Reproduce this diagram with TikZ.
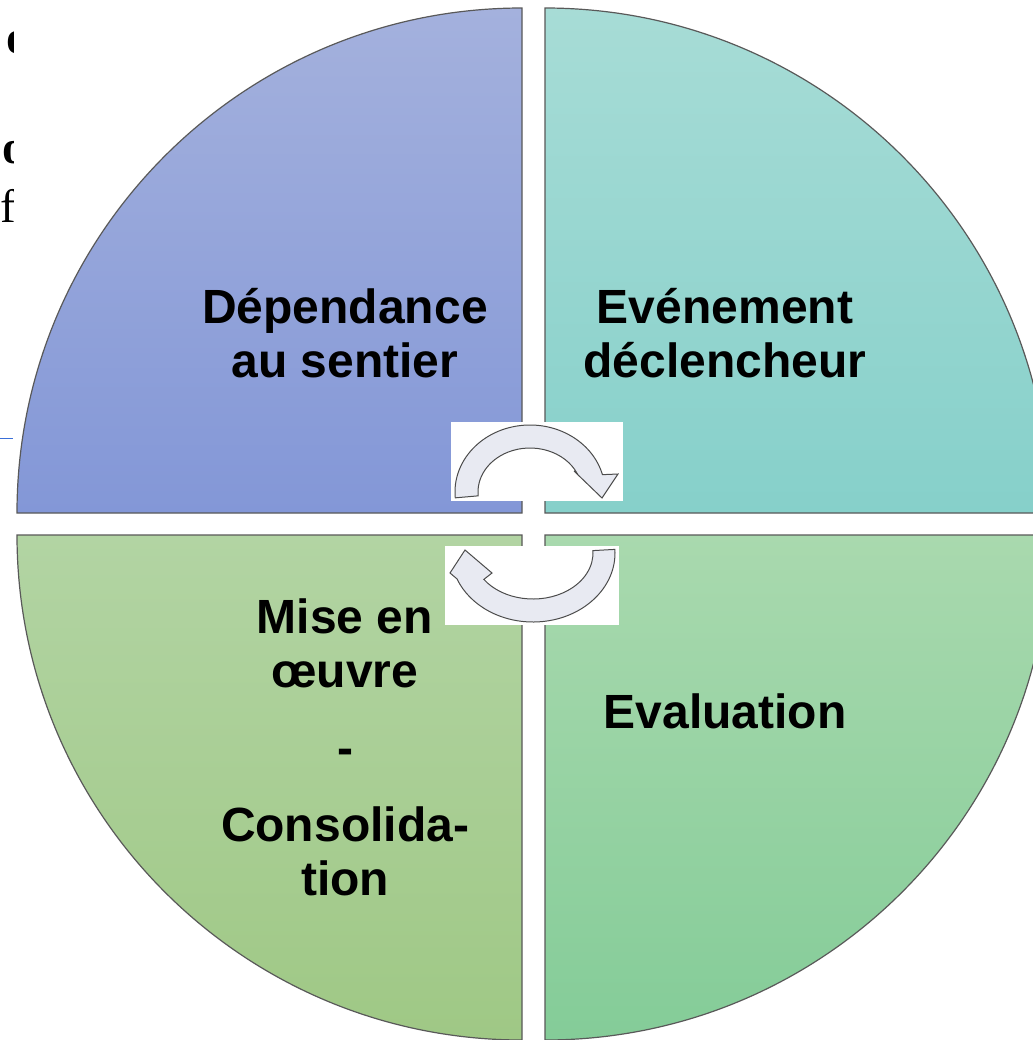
\documentclass[tikz,border=0pt]{standalone}
\usepackage{fontspec}
\setmainfont{Liberation Sans}
\newfontfamily\serifbits{Liberation Serif}
\usepackage{tikz}

\definecolor{tlTop}{HTML}{A4B1DD}
\definecolor{tlBot}{HTML}{8397D7}
\definecolor{trTop}{HTML}{A7DCD6}
\definecolor{trBot}{HTML}{86D0CA}
\definecolor{blTop}{HTML}{B2D4A3}
\definecolor{blBot}{HTML}{9FC885}
\definecolor{brTop}{HTML}{A9D9AE}
\definecolor{brBot}{HTML}{84CC98}
\definecolor{arrowFill}{HTML}{E8EAF2}
\definecolor{pageBlue}{HTML}{3A6FD8}

\begin{document}
\begin{tikzpicture}[x=0.5pt, y=-0.5pt,
	quart/.style={draw=black!65, line width=0.6pt},
	fleche/.style={fill=arrowFill, draw=black!70, line width=0.5pt},
	etiq/.style={font=\fontsize{24}{27}\selectfont\bfseries, align=center, inner sep=0pt, anchor=base},
	bout/.style={font=\serifbits\fontsize{23.5}{24}\selectfont, inner sep=0pt, anchor=base west}]

				\useasboundingbox (0,0) rectangle (1033,1040);
				\fill[white] (0,0) rectangle (1033,1040);

				\node[bout, font=\serifbits\fontsize{23.5}{24}\selectfont\bfseries] (bitA) at (6,53) {o};
				\node[bout, font=\serifbits\fontsize{23.5}{24}\selectfont\bfseries] (bitB) at (2,163) {o};
				\node[bout] (bitC) at (0,222) {f};
				\draw[pageBlue, line width=0.5pt] (0,438) -- (13,438);
				\fill[white] (14,0) rectangle (1033,1040);

				\draw[quart, top color=tlTop, bottom color=tlBot] (522,513) -- (17,513) arc[start angle=180, end angle=270, radius=505] -- cycle;
				\draw[quart, top color=trTop, bottom color=trBot] (545,513) -- (545,8) arc[start angle=270, end angle=360, radius=505] -- cycle;
				\draw[quart, top color=blTop, bottom color=blBot] (522,535) -- (17,535) arc[start angle=180, end angle=90, radius=505] -- cycle;
				\draw[quart, top color=brTop, bottom color=brBot] (545,535) -- (545,1040) arc[start angle=90, end angle=0, radius=505] -- cycle;

				\fill[white] (451,422) rectangle (623,501);
				\fill[white] (445,546) rectangle (619,625);

				\draw[fleche, shift={(530,492)}] (175:75 and 67) arc[start angle=175, end angle=345, x radius=75, y radius=67] -- (88,-18) -- (72,6) -- (44,-21) -- (335:52 and 44) arc[start angle=335, end angle=175, x radius=52, y radius=44] -- cycle;
				\draw[fleche, shift={(533,553)}] (-3:82 and 69) arc[start angle=-3, end angle=158, x radius=82, y radius=69] -- (-83,20) -- (-68,-3) -- (-41,20) -- (145:60 and 46) arc[start angle=145, end angle=-3, x radius=60, y radius=46] -- cycle;

				\node[etiq] (dep) at (345,377) {Dépendance\\au sentier};
				\node[etiq] (evt) at (725,377) {Evénement\\déclencheur};
				\node[etiq] (mise) at (345,895) {Mise en\\œuvre\\[11.5pt]-\\[11.5pt]Consolida-\\tion};
				\node[etiq] (eval) at (725,728) {Evaluation};
\end{tikzpicture}
\end{document}
